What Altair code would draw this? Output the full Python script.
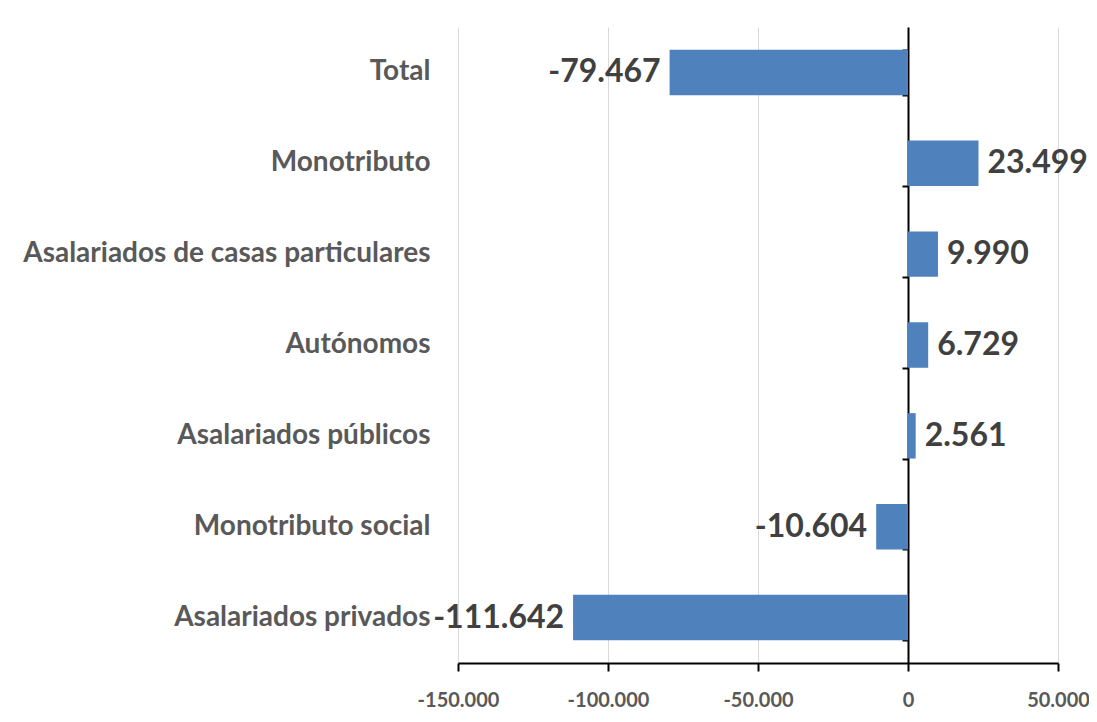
import altair as alt
import pandas as pd

categories = ["Total\u00a0", "Monotributo", "Asalariados de casas particulares",
              "Autónomos", "Asalariados públicos", "Monotributo social",
              "Asalariados privados"]
values = [-79467, 23499, 9990, 6729, 2561, -10604, -111642]
x_ticks = [-150000, -100000, -50000, 0, 50000]

df = pd.DataFrame({"cat": categories, "val": values})

yscale = alt.Scale(domain=categories, paddingInner=0.5, paddingOuter=0.25)
xscale = alt.Scale(domain=[-150000, 50000], nice=False)

x_enc = alt.X("val:Q", scale=xscale,
              axis=alt.Axis(values=x_ticks, format=",.0f", title=None))

bars = alt.Chart(df).mark_bar(color="#4f81bd").encode(
    x=x_enc,
    y=alt.Y("cat:N", scale=yscale, sort=categories,
            axis=alt.Axis(title=None, domain=False, ticks=False,
                          labelFont="Lato", labelFontWeight="bold",
                          labelFontSize=28, labelColor="#595959",
                          labelPadding=28, labelLimit=600)),
)

pos = alt.Chart(df).transform_filter("datum.val >= 0").mark_text(
    align="left", baseline="middle", dx=9, font="Lato", fontWeight="bold",
    fontSize=32, color="#404040"
).encode(
    x=x_enc,
    y=alt.Y("cat:N", scale=yscale, sort=categories, axis=None),
    text=alt.Text("val:Q", format=",.0f"),
)

neg = alt.Chart(df).transform_filter("datum.val < 0").mark_text(
    align="right", baseline="middle", dx=-9, font="Lato", fontWeight="bold",
    fontSize=32, color="#404040"
).encode(
    x=x_enc,
    y=alt.Y("cat:N", scale=yscale, sort=categories, axis=None),
    text=alt.Text("val:Q", format=",.0f"),
)

zero_axis = alt.Chart(df).mark_point(opacity=0).encode(
    x=x_enc,
    y=alt.Y("cat:N", scale=yscale, sort=categories,
            axis=alt.Axis(title=None, orient="left", offset=-450, labels=False,
                          domain=True, domainColor="black", domainWidth=2,
                          ticks=True, tickColor="black", tickWidth=2,
                          tickSize=6, tickBand="extent", grid=False)),
)

chart = alt.layer(bars, pos, neg, zero_axis).resolve_axis(y="independent").properties(
    width=600, height=636, autosize="none",
    padding={"left": 450, "top": 19, "right": 31, "bottom": 48},
).configure(
    locale={"number": {"decimal": ",", "thousands": ".", "grouping": [3],
                       "currency": ["$", ""], "minus": "-"}}
).configure_view(strokeWidth=0).configure_axisX(
    grid=True, gridColor="#d9d9d9", gridWidth=1,
    domainColor="black", domainWidth=2,
    tickColor="black", tickWidth=2, tickSize=8,
    labelFont="Lato", labelFontWeight="bold", labelFontSize=20,
    labelColor="#595959", labelPadding=19, labelFlush=False,
)

chart.save("out.html", embed_options={"renderer": "svg", "actions": False})
